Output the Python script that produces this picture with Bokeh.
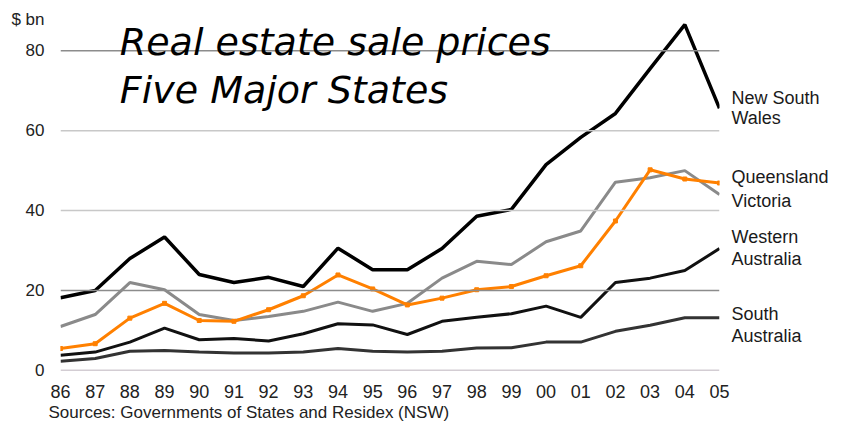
from bokeh.plotting import figure
from bokeh.models import Range1d, FixedTicker, Span, Label, LinearAxis, Title
from bokeh.embed import file_html
from bokeh.resources import INLINE

years = ["86", "87", "88", "89", "90", "91", "92", "93", "94", "95",
         "96", "97", "98", "99", "00", "01", "02", "03", "04", "05"]
nsw = [18.2, 20, 28, 33.4, 24, 22, 23.3, 21, 30.6, 25.2,
       25.2, 30.5, 38.6, 40.3, 51.5, 58.3, 64.3, 75.5, 86.5, 65.6]
vic = [11, 14, 22, 20.2, 14, 12.5, 13.5, 14.8, 17.1, 14.8,
       16.8, 23.1, 27.3, 26.5, 32.2, 34.9, 47.1, 48.2, 50, 44]
qld = [5.5, 6.7, 13.1, 16.8, 12.5, 12.3, 15.2, 18.7, 23.9, 20.4,
       16.4, 18.1, 20.2, 21, 23.7, 26.2, 37.4, 50.2, 47.9, 46.9]
wa = [3.8, 4.6, 7.1, 10.6, 7.7, 8, 7.4, 9.2, 11.7, 11.4,
      9, 12.3, 13.3, 14.2, 16.1, 13.3, 22, 23.1, 25, 30.5]
sa = [2.3, 3, 4.8, 5, 4.6, 4.4, 4.4, 4.6, 5.5, 4.8,
      4.6, 4.8, 5.6, 5.7, 7.1, 7.1, 9.8, 11.3, 13.2, 13.2]
y_ticks = [0, 20, 40, 60, 80]
unit_label = "$ bn"
unit_label_y = 87.8
series_labels = ["New South", "Wales", "Queensland", "Victoria",
                 "Western", "Australia", "South", "Australia"]
series_label_y = [68.2, 63.2, 48.3, 42.3, 33.3, 27.9, 14.2, 8.7]

xs = list(range(len(years)))

p = figure(width=831, height=422, output_backend="svg", toolbar_location=None,
           x_range=Range1d(0, len(years) - 1), y_range=Range1d(0, 89.05),
           min_border_left=60, min_border_right=104, min_border_top=14,
           min_border_bottom=50)
p.outline_line_color = None
p.background_fill_color = "white"
p.border_fill_color = "white"
p.xgrid.visible = False
p.ygrid.visible = False

grid_colors = {0: "#a89ca8", 20: "#8c8c8c", 40: "#c8c8c8", 60: "#c8c8c8", 80: "#8c8c8c"}
for t in y_ticks:
    p.add_layout(Span(location=t, dimension="width", line_color=grid_colors[t], line_width=1.5))

p.yaxis.ticker = FixedTicker(ticks=y_ticks + [unit_label_y])
p.yaxis.major_label_overrides = {unit_label_y: unit_label}
p.yaxis.axis_line_color = None
p.yaxis.major_tick_line_color = None
p.yaxis.minor_tick_line_color = None
p.yaxis.major_label_standoff = 10
p.yaxis.major_label_text_font = "Liberation Sans"
p.yaxis.major_label_text_font_size = "17px"
p.yaxis.major_label_text_color = "#222222"

p.xaxis.ticker = FixedTicker(ticks=xs)
p.xaxis.major_label_overrides = {i: y for i, y in enumerate(years)}
p.xaxis.axis_line_color = None
p.xaxis.major_tick_line_color = None
p.xaxis.minor_tick_line_color = None
p.xaxis.major_label_standoff = 8
p.xaxis.major_label_text_font = "Liberation Sans"
p.xaxis.major_label_text_font_size = "18px"
p.xaxis.major_label_text_color = "#222222"

# series names as a right-hand axis
raxis = LinearAxis(ticker=FixedTicker(ticks=series_label_y),
                   major_label_overrides={v: t for v, t in zip(series_label_y, series_labels)})
raxis.axis_line_color = None
raxis.major_tick_line_color = None
raxis.minor_tick_line_color = None
raxis.major_label_standoff = 6
raxis.major_label_text_font = "Liberation Sans"
raxis.major_label_text_font_size = "18px"
raxis.major_label_text_color = "#1a1a1a"
p.add_layout(raxis, "right")

p.line(xs, sa, line_color="#333333", line_width=3)
p.line(xs, wa, line_color="#111111", line_width=3)
p.line(xs, vic, line_color="#8a8a8a", line_width=3)
p.line(xs, qld, line_color="#ff8000", line_width=3)
p.scatter(xs, qld, marker="square", size=4, color="#ff8000")
p.line(xs, nsw, line_color="#000000", line_width=3.5)

p.add_layout(Label(x=1.71, y=82.1, text="Real estate sale prices", text_font="DejaVu Sans",
                   text_font_style="italic", text_font_size="38px", text_color="#000000",
                   text_baseline="alphabetic"))
p.add_layout(Label(x=1.71, y=70.1, text="Five Major States", text_font="DejaVu Sans",
                   text_font_style="italic", text_font_size="38px", text_color="#000000",
                   text_baseline="alphabetic"))

src = Title(text="Sources:  Governments of States and Residex (NSW)", align="left",
            offset=-12, standoff=1, text_font="Liberation Sans", text_font_size="17px",
            text_font_style="normal", text_color="#222222")
p.add_layout(src, "below")

open("out.html", "w").write(file_html(p, INLINE))
